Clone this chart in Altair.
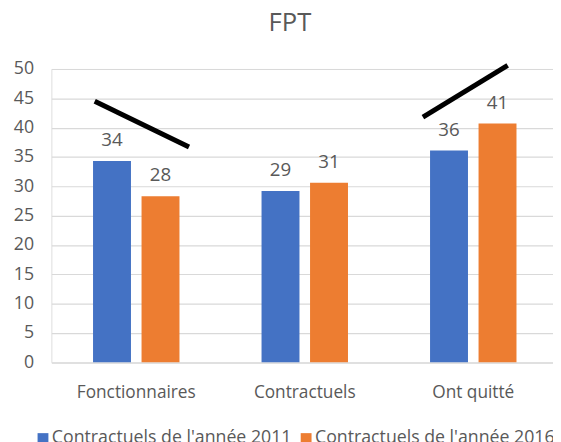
import altair as alt
import pandas as pd

categories = ["Fonctionnaires", "Contractuels", "Ont quitté"]
series = ["Contractuels de l'année 2011", "Contractuels de l'année 2016"]
values_2011 = [34.3, 29.2, 36.1]
values_2016 = [28.3, 30.6, 40.7]
colors = ["#4472C4", "#ED7D31"]
y_ticks = [0, 5, 10, 15, 20, 25, 30, 35, 40, 45, 50]

# black annotation strokes (x in category units: 0 = centre of first group)
line_id = ["a", "a", "b", "b"]
line_x = [-0.2465, 0.313, 1.701, 2.204]
line_y = [44.5, 36.7, 41.8, 50.6]

rows = []
for c, v1, v2 in zip(categories, values_2011, values_2016):
    rows.append({"category": c, "series": series[0], "value": v1})
    rows.append({"category": c, "series": series[1], "value": v2})
df = pd.DataFrame(rows)
lines_df = pd.DataFrame({"id": line_id, "lx": line_x, "ly": line_y})

FONT = "Open Sans"
TXT = "#595959"

x_enc = alt.X(
    "category:N",
    sort=categories,
    scale=alt.Scale(paddingInner=0.487, paddingOuter=0.232, align=0.533),
    axis=alt.Axis(title=None, labelAngle=0, ticks=False, domain=False,
                  labelFontSize=17.5, labelColor=TXT, labelFont=FONT,
                  labelPadding=22, grid=False),
)
xoff_enc = alt.XOffset("series:N", sort=series,
                       scale=alt.Scale(paddingInner=0.218, paddingOuter=0))
y_scale = alt.Scale(domain=[0, 50], nice=False, zero=True)
y_axis = alt.Axis(title=None, values=y_ticks, tickCount=11, ticks=False, tickSize=0,
                  domain=False, labelFontSize=18, labelColor=TXT,
                  labelFont=FONT, labelPadding=18, gridColor="#D9D9D9",
                  gridWidth=1.2, labelOverlap=False)

bars = alt.Chart(df).mark_bar().encode(
    x=x_enc,
    xOffset=xoff_enc,
    y=alt.Y("value:Q", scale=y_scale, axis=y_axis),
    color=alt.Color("series:N", sort=series,
                    scale=alt.Scale(domain=series, range=colors),
                    legend=alt.Legend(title=None, orient="none", direction="horizontal",
                                      legendX=-17.5, legendY=366, symbolType="square",
                                      symbolSize=121, symbolStrokeWidth=0,
                                      labelFontSize=18, labelColor=TXT, labelFont=FONT,
                                      labelOffset=0, columnPadding=5, padding=0,
                                      labelLimit=0)),
)

labels = alt.Chart(df).mark_text(baseline="alphabetic", dy=-15, fontSize=19,
                                 color=TXT, font=FONT).encode(
    x=x_enc,
    xOffset=xoff_enc,
    y=alt.Y("value:Q", scale=y_scale, axis=y_axis),
    text=alt.Text("value:Q", format=".0f"),
)

strokes = alt.Chart(lines_df).mark_line(color="black", strokeWidth=5,
                                        strokeCap="butt").encode(
    x=alt.X("lx:Q", scale=alt.Scale(domain=[-0.5038, 2.473], nice=False, zero=False),
            axis=None),
    y=alt.Y("ly:Q", scale=y_scale, axis=y_axis),
    detail="id:N",
)

chart = alt.layer(alt.layer(bars, labels), strokes).resolve_scale(x="independent").properties(
    width=509,
    height=297.6,
    padding={"left": 44, "top": 58.7, "right": 0, "bottom": 77.7},
    autosize=alt.AutoSizeParams(type="none"),
    title=alt.TitleParams("FPT", fontSize=26, color=TXT, font=FONT,
                          fontWeight="normal", anchor="middle", dx=-12.5,
                          baseline="alphabetic", offset=-1),
).configure_view(stroke=None).configure(font=FONT)

chart.save("out.html", embed_options={"renderer": "svg", "actions": False})
